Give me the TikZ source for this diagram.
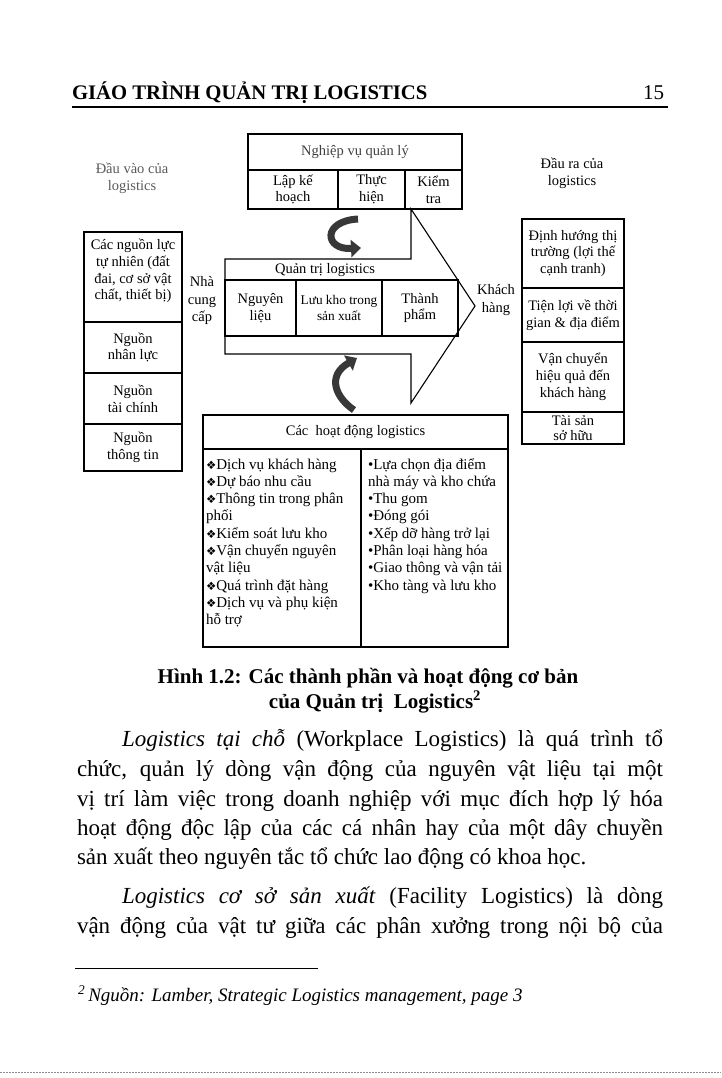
\documentclass[tikz,border=0pt]{standalone}
\usepackage{fontspec}
\setmainfont{Liberation Serif}
\newfontfamily\symf{DejaVu Sans}
\usetikzlibrary{arrows.meta}
\newcommand\dtext{\fontsize{14.5}{16.8}\selectfont}
\newcommand\ltext{\fontsize{15}{17.3}\selectfont}
\newcommand\btext{\fontsize{23}{29.5}\selectfont}
\newcommand\dia{{\symf\fontsize{11.5}{11.5}\selectfont ❖}}
\begin{document}
\begin{tikzpicture}[x=1pt,y=-1pt,
  every node/.style={inner sep=0pt, outer sep=0pt},
  cell/.style={draw, line width=1.3pt, align=center, font=\dtext},
  heavycell/.style={cell, line width=1.7pt},
  txt/.style={align=center, font=\dtext},
  bl/.style={anchor=base west, font=\btext},
  curvy/.style={line width=7pt, draw=black!78, -{Triangle[length=10pt,width=17pt]}}
]
\useasboundingbox (0,0) rectangle (721,1078);

% header
\node[anchor=base west, font=\fontsize{20.7}{24}\selectfont\bfseries] (hdr) at (72,100) {GIÁO TRÌNH QUẢN TRỊ LOGISTICS};
\node[anchor=base east, font=\fontsize{21}{24}\selectfont] (pgno) at (664,100) {15};
\coordinate (hl) at (72,107); \coordinate (hr) at (668,107);
\draw[line width=1.1pt] (hl) -- (hr);

% input / output labels
\node[txt, text=black!65] (inlab) at (132,178) {Đầu vào của\\logistics};
\node[txt] (outlab) at (572,173) {Đầu ra của\\logistics};

% management box
\node[cell, minimum width=214pt, minimum height=36pt, text=black!75] (mgmt) at (355,152) {Nghiệp vụ quản lý};
\node[cell, minimum width=90pt, minimum height=39pt] (plan) at (293,189.5) {Lập kế\\hoạch};
\node[cell, minimum width=67pt, minimum height=39pt] (exec) at (371.5,189.5) {Thực\\hiện};
\node[cell, minimum width=57pt, minimum height=39pt] (check) at (433.5,189.5) {Kiểm\\tra};

% big arrow
\coordinate (b1) at (225,259); \coordinate (b2) at (411,259); \coordinate (b3) at (411,209);
\coordinate (tip) at (475,306); \coordinate (b4) at (411,403); \coordinate (b5) at (411,354);
\coordinate (b6) at (225,354);
\draw[line width=1.1pt, line join=miter] (b1) -- (b2) -- (b3) -- (tip) -- (b4) -- (b5) -- (b6) -- cycle;

\node[txt] (qtl) at (325,270) {Quản trị logistics};
\node[cell, minimum width=71pt, minimum height=56pt] (raw) at (260.5,308) {Nguyên\\liệu};
\node[cell, minimum width=86pt, minimum height=56pt, font=\fontsize{13.3}{16}\selectfont] (wip) at (339,308) {Lưu kho trong\\sản xuất};
\node[cell, minimum width=76pt, minimum height=56pt] (fin) at (420,308) {Thành\\phẩm};
\draw[line width=2pt] (raw.north west) rectangle (fin.south east);

% curved arrows
\coordinate (c1s) at (358,219); \coordinate (c1e) at (361,248);
\draw[curvy] (c1s) .. controls (322,221) and (324,250) .. (c1e);
\coordinate (c2s) at (354,410); \coordinate (c2e) at (357,358);
\draw[curvy] (c2s) .. controls (336,398) and (326,376) .. (c2e);

\node[txt, font=\fontsize{14.5}{17.5}\selectfont] (supp) at (202,301) {Nhà\\cung\\cấp};
\node[txt, font=\fontsize{14.5}{17.5}\selectfont] (cust) at (496,300) {Khách\\hàng};

% input resources
\node[heavycell, minimum width=98pt, minimum height=90pt] (res1) at (133,277) {};
\node[txt, font=\fontsize{14.5}{16.7}\selectfont] (res1t) at (133,271) {Các nguồn lực\\tự nhiên (đất\\đai, cơ sở vật\\chất, thiết bị)};
\node[heavycell, minimum width=98pt, minimum height=51pt] (res2) at (133,347.5) {Nguồn\\nhân lực};
\node[heavycell, minimum width=98pt, minimum height=51pt] (res3) at (133,398.5) {Nguồn\\tài chính};
\node[heavycell, minimum width=98pt, minimum height=47pt] (res4) at (133,447.5) {Nguồn\\thông tin};

% outputs
\node[heavycell, minimum width=102pt, minimum height=69pt] (out1) at (573,253.5) {Định hướng thị\\trường (lợi thế\\cạnh tranh)};
\node[heavycell, minimum width=102pt, minimum height=54pt] (out2) at (573,315) {Tiện lợi về thời\\gian \& địa điểm};
\node[heavycell, minimum width=102pt, minimum height=70pt] (out3) at (573,377) {Vận chuyển\\hiệu quả đến\\khách hàng};
\node[heavycell, minimum width=102pt, minimum height=32pt, font=\fontsize{14.5}{15}\selectfont] (out4) at (573,428) {Tài sản\\sở hữu};

% activities
\node[heavycell, minimum width=305pt, minimum height=34pt] (acth) at (355.5,432) {Các~~hoạt động logistics};
\node[heavycell, minimum width=158pt, minimum height=198pt] (actl) at (282,548) {};
\node[heavycell, minimum width=147pt, minimum height=198pt] (actr) at (434.5,548) {};
\node[anchor=north west, align=left, font=\ltext] (actlt) at (206,455) {\rule{0pt}{14pt}\dia Dịch vụ khách hàng\\
\dia Dự báo nhu cầu\\
\dia Thông tin trong phân\\
phối\\
\dia Kiểm soát lưu kho\\
\dia Vận chuyển nguyên\\
vật liệu\\
\dia Quá trình đặt hàng\\
\dia Dịch vụ và phụ kiện\\
hỗ trợ};
\node[anchor=north west, align=left, font=\ltext] (actrt) at (368,455) {\rule{0pt}{14pt}•Lựa chọn địa điểm\\
nhà máy và kho chứa\\
•Thu gom\\
•Đóng gói\\
•Xếp dỡ hàng trở lại\\
•Phân loại hàng hóa\\
•Giao thông và vận tải\\
•Kho tàng và lưu kho};

% caption
\node[anchor=base, font=\fontsize{21}{25}\selectfont\bfseries] (cap1) at (368,683) {Hình 1.2: Các thành phần và hoạt động cơ bản};
\node[anchor=base, font=\fontsize{21}{25}\selectfont\bfseries] (cap2) at (375,708) {của Quản trị~~Logistics\textsuperscript{2}};

% body text
\node[bl] (p1) at (122,746) {\makebox[541pt][s]{\textit{Logistics tại chỗ} (Workplace Logistics) là quá trình tổ}};
\node[bl] (p2) at (77,776) {\makebox[586pt][s]{chức, quản lý dòng vận động của nguyên vật liệu tại một}};
\node[bl] (p3) at (77,806) {\makebox[586pt][s]{vị trí làm việc trong doanh nghiệp với mục đích hợp lý hóa}};
\node[bl] (p4) at (77,835) {\makebox[586pt][s]{hoạt động độc lập của các cá nhân hay của một dây chuyền}};
\node[bl] (p5) at (77,864) {sản xuất theo nguyên tắc tổ chức lao động có khoa học.};
\node[bl] (p6) at (122,903) {\makebox[541pt][s]{\textit{Logistics cơ sở sản xuất} (Facility Logistics) là dòng}};
\node[bl] (p7) at (77,933) {\makebox[586pt][s]{vận động của vật tư giữa các phân xưởng trong nội bộ của}};

% footnote
\coordinate (fl) at (75,968); \coordinate (fr) at (318,968);
\draw[line width=0.8pt] (fl) -- (fr);
\node[bl, font=\fontsize{19}{22}\selectfont] (fn) at (78,1001) {\textsuperscript{\textit{2}}\,\textit{Nguồn: Lamber, Strategic Logistics management, page 3}};

% page edge
\coordinate (el) at (0,1072); \coordinate (er) at (721,1072);
\draw[black!45, line width=0.8pt, dash pattern=on 1.5pt off 1.5pt] (el) -- (er);
\end{tikzpicture}
\end{document}
